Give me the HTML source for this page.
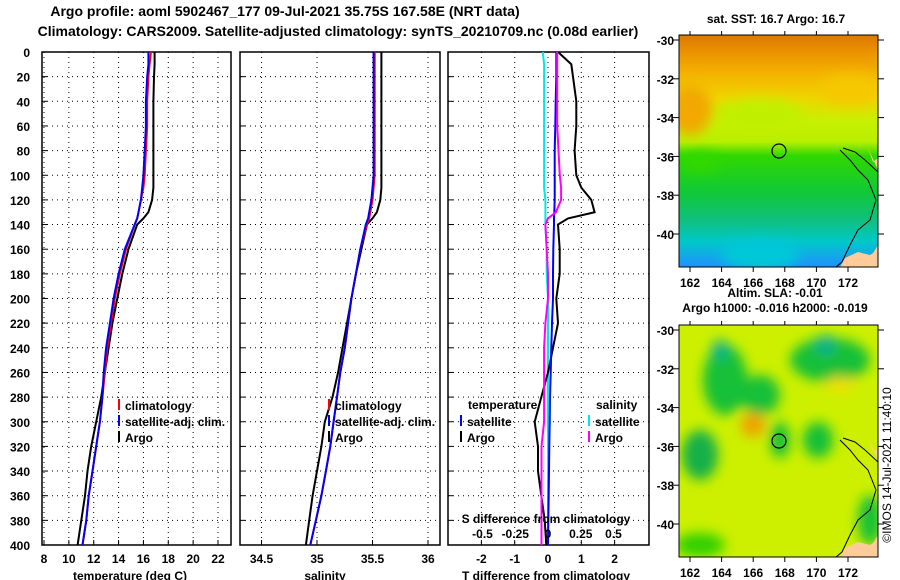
<!DOCTYPE html>
<html><head><meta charset="utf-8"><style>
body{margin:0;background:#fff;}
svg{display:block;font-family:"Liberation Sans",sans-serif;font-weight:bold;}
</style></head><body>
<svg id="chart" width="900" height="580" viewBox="0 0 900 580" xmlns="http://www.w3.org/2000/svg">
<defs>
<linearGradient id="sstg" x1="0" y1="0" x2="0" y2="1">
<stop offset="0" stop-color="#dc7800"/><stop offset="0.08" stop-color="#ec9400"/>
<stop offset="0.17" stop-color="#f4b400"/><stop offset="0.27" stop-color="#f0d400"/>
<stop offset="0.37" stop-color="#c8f000"/><stop offset="0.46" stop-color="#b8f000"/>
<stop offset="0.52" stop-color="#30d800"/><stop offset="0.68" stop-color="#10c838"/>
<stop offset="0.8" stop-color="#10c080"/><stop offset="0.89" stop-color="#00c8c8"/>
<stop offset="1" stop-color="#2090ff"/>
</linearGradient>
<filter id="blur"><feGaussianBlur stdDeviation="6"/></filter>
<clipPath id="c1"><rect x="679" y="35" width="199" height="232"/></clipPath>
<clipPath id="c2"><rect x="679" y="325" width="199" height="232"/></clipPath>
</defs>
<text x="285" y="16" font-size="14" text-anchor="middle">Argo profile: aoml 5902467_177 09-Jul-2021 35.75S 167.58E (NRT data)</text>
<text x="338" y="36" font-size="14" text-anchor="middle">Climatology: CARS2009. Satellite-adjusted climatology: synTS_20210709.nc (0.08d earlier)</text>
<g id="panels"></g>

<!-- top map -->
<g clip-path="url(#c1)">
<rect x="679" y="35" width="199" height="232" fill="url(#sstg)"/>
<g filter="url(#blur)">
<ellipse cx="690" cy="110" rx="22" ry="25" fill="#f2a800"/>
<ellipse cx="760" cy="115" rx="45" ry="16" fill="#c0f000"/>
<ellipse cx="700" cy="162" rx="20" ry="10" fill="#30d800"/>
<ellipse cx="850" cy="90" rx="30" ry="15" fill="#f5c800"/>
<ellipse cx="760" cy="255" rx="40" ry="15" fill="#00c8d8"/>
</g>
<path d="M868,148 L873,162 L878,158 L878,267 L855,267 L872,255 L878,245 L878,170 Z" fill="#ffcc99"/>
<path d="M845,258 L858,252 L870,255 L878,250 L878,267 L840,267 Z" fill="#ffcc99"/>
<path d="M840,150 L850,160 L858,170 L868,180 L876,200 L870,220 L858,230 L850,245 L842,262 L836,267" fill="none" stroke="#000" stroke-width="1"/>
<path d="M843,148 L855,152 L865,160 L878,172" fill="none" stroke="#000" stroke-width="1"/>
<circle cx="779" cy="151" r="7" fill="none" stroke="#000" stroke-width="1.2"/>
</g>
<rect x="679" y="35" width="199" height="232" fill="none" stroke="#000" stroke-width="1"/>
<text x="776" y="23" font-size="12" text-anchor="middle">sat. SST: 16.7 Argo: 16.7</text>

<!-- bottom map -->
<g clip-path="url(#c2)">
<rect x="679" y="325" width="199" height="232" fill="#ccf000"/>
<g filter="url(#blur)">
<ellipse cx="725" cy="380" rx="22" ry="35" fill="#18c038"/>
<ellipse cx="720" cy="350" rx="8" ry="10" fill="#10b090"/>
<ellipse cx="760" cy="395" rx="20" ry="20" fill="#18c038"/>
<ellipse cx="830" cy="360" rx="40" ry="22" fill="#18c038"/>
<ellipse cx="825" cy="345" rx="10" ry="10" fill="#10b090"/>
<ellipse cx="700" cy="455" rx="18" ry="25" fill="#18b048"/>
<ellipse cx="780" cy="440" rx="10" ry="18" fill="#18c038"/>
<ellipse cx="818" cy="440" rx="15" ry="18" fill="#18c038"/>
<ellipse cx="753" cy="425" rx="12" ry="12" fill="#f0a000"/>
<ellipse cx="840" cy="385" rx="15" ry="8" fill="#f0e000"/>
<ellipse cx="700" cy="545" rx="25" ry="12" fill="#30d000"/>
<ellipse cx="870" cy="520" rx="12" ry="25" fill="#18c038"/>
</g>
<path d="M868,438 L873,452 L878,448 L878,557 L855,557 L872,545 L878,535 L878,460 Z" fill="#ffcc99"/>
<path d="M845,548 L858,542 L870,545 L878,540 L878,557 L840,557 Z" fill="#ffcc99"/>
<path d="M840,440 L850,450 L858,460 L868,470 L876,490 L870,510 L858,520 L850,535 L842,552 L836,557" fill="none" stroke="#000" stroke-width="1"/>
<path d="M843,438 L855,442 L865,450 L878,462" fill="none" stroke="#000" stroke-width="1"/>
<circle cx="779" cy="441" r="7" fill="none" stroke="#000" stroke-width="1.2"/>
</g>
<rect x="679" y="325" width="199" height="232" fill="none" stroke="#000" stroke-width="1"/>
<text x="775" y="297" font-size="12" text-anchor="middle">Altim. SLA: -0.01</text>
<text x="775" y="312" font-size="12" text-anchor="middle">Argo h1000: -0.016 h2000: -0.019</text>
<text transform="translate(891,465) rotate(-90)" font-size="12" font-weight="normal" text-anchor="middle">©IMOS 14-Jul-2021 11:40:10</text>
<g id="maplabels"></g>
</svg>
<script>
const NS='http://www.w3.org/2000/svg';
const depths=[0,10,20,40,60,80,100,110,120,130,135,140,160,180,200,220,240,260,280,300,320,340,360,380,400];
const argoT=[16.9,16.9,16.85,16.8,16.8,16.8,16.8,16.8,16.7,16.4,16.0,15.5,14.8,14.3,13.9,13.5,13.2,12.9,12.6,12.2,11.8,11.5,11.3,11.0,10.7];
const climT=[16.6,16.5,16.4,16.3,16.3,16.2,16.1,16.0,15.8,15.6,15.5,15.3,14.6,14.1,13.7,13.4,13.1,12.9,12.7,12.5,12.2,11.9,11.6,11.4,11.1];
const satT=[16.4,16.4,16.3,16.2,16.2,16.1,16.0,15.9,15.8,15.6,15.5,15.3,14.5,14.0,13.6,13.3,13.0,12.8,12.7,12.5,12.2,11.9,11.6,11.4,11.1];
const argoS=[35.58,35.58,35.58,35.58,35.58,35.58,35.58,35.58,35.57,35.54,35.5,35.45,35.4,35.35,35.31,35.27,35.23,35.19,35.14,35.07,35.04,35.0,34.96,34.93,34.9];
const climS=[35.52,35.52,35.52,35.52,35.52,35.52,35.52,35.51,35.5,35.48,35.47,35.45,35.39,35.35,35.31,35.28,35.25,35.21,35.18,35.15,35.12,35.08,35.04,34.99,34.94];
const satS=[35.51,35.51,35.51,35.51,35.51,35.51,35.51,35.5,35.49,35.47,35.46,35.44,35.39,35.35,35.31,35.28,35.25,35.21,35.18,35.15,35.12,35.08,35.04,34.99,34.94];
const argoTd=[0.3,0.7,0.75,0.85,0.85,0.8,0.85,1.0,1.3,1.4,0.6,0.3,0.35,0.35,0.25,0.3,0.15,0.0,-0.2,-0.4,-0.3,-0.3,-0.2,-0.1,-0.05];
const satTd=[0.25,0.25,0.25,0.23,0.22,0.2,0.2,0.2,0.2,0.19,0.18,0.18,0.16,0.15,0.15,0.12,0.1,0.08,0.06,0.05,0.04,0.03,0.02,0.01,0.0];
const argoSd=[0.07,0.07,0.07,0.07,0.07,0.08,0.09,0.1,0.1,0.06,0.0,-0.02,-0.01,0.0,0.0,-0.02,-0.03,-0.03,-0.03,-0.03,-0.05,-0.05,-0.05,-0.05,-0.05];
const satSd=[-0.04,-0.03,-0.03,-0.03,-0.03,-0.03,-0.03,-0.03,-0.02,-0.02,-0.02,-0.02,-0.01,-0.01,0.0,0.0,0.0,0.0,0.0,0.0,0.0,0.0,0.0,0.0,0.0];
const tTicks=[8,10,12,14,16,18,20,22];
const sTicks=[34.5,35,35.5,36];
const tdTicks=[-2,-1,0,1,2];
const sdTicks=[-0.5,-0.25,0,0.25,0.5];
const sdTickLabels=['-0.5','-0.25','0','0.25','0.5'];
const yTicks=[0,20,40,60,80,100,120,140,160,180,200,220,240,260,280,300,320,340,360,380,400];
const latTicks=[-30,-32,-34,-36,-38,-40];
const lonTicks=[162,164,166,168,170,172];

const Y0=52,Y1=545;
const yOf=d=>Y0+(d/400)*(Y1-Y0);
const xT=v=>44+(v-8)*(174/14);
const xS=v=>317+(v-35)*111;
const xTd=v=>548+v*33.3;
const xSd=v=>548+v*131;
const G=document.getElementById('panels');
function el(tag,attrs,parent){const e=document.createElementNS(NS,tag);for(const k in attrs)e.setAttribute(k,attrs[k]);(parent||G).appendChild(e);return e;}
function txt(x,y,s,anchor,size,parent){const t=el('text',{x:x,y:y,'font-size':size||12,'text-anchor':anchor||'middle'},parent);t.textContent=s;return t;}

function panel(name,L,R,ticks,xf,labels){
  const g=el('g',{});
  
  
  yTicks.forEach(d=>{if(d>0&&d<400){el('line',{x1:L,x2:R,y1:yOf(d),y2:yOf(d),stroke:'#000','stroke-dasharray':'1,4','stroke-width':1},g);}
    el('line',{x1:L,x2:L+5,y1:yOf(d),y2:yOf(d),stroke:'#000'},g);});
  ticks.forEach(v=>{const x=xf(v);el('line',{x1:x,x2:x,y1:Y0,y2:Y1,stroke:'#000','stroke-dasharray':'1,4'},g);
    el('line',{x1:x,x2:x,y1:Y1,y2:Y1-5,stroke:'#000'},g);});
  el('rect',{x:L,y:Y0,width:R-L,height:Y1-Y0,fill:'none',stroke:'#000','stroke-width':1.5},g);
  if(labels) ticks.forEach((v,i)=>{const t=txt(xf(v),563,labels[i],'middle',12,g);});
  return g;
}
function line(g,vals,xf,color,name){
  const p=el('polyline',{points:vals.map((v,i)=>xf(v).toFixed(1)+','+yOf(depths[i]).toFixed(1)).join(' '),fill:'none',stroke:color,'stroke-width':2},g);
  
  
}
yTicks.forEach(d=>{const t=txt(30,yOf(d)+5,String(d),'end',12);

});

const p1=panel('temperature-panel',42,231,tTicks,xT,tTicks.map(String));
line(p1,argoT,xT,'#000','argo-temperature-line');
line(p1,climT,xT,'#f00','climatology-temperature-line');
line(p1,satT,xT,'#00f','satellite-temperature-line');
let t=txt(130,580,'temperature (deg C)','middle',12,p1);

const p2=panel('salinity-panel',240,440,sTicks,xS,['34.5','35','35.5','36']);
line(p2,argoS,xS,'#000','argo-salinity-line');
line(p2,climS,xS,'#f00','climatology-salinity-line');
line(p2,satS,xS,'#00f','satellite-salinity-line');
t=txt(325,580,'salinity','middle',12,p2);

const p3=panel('difference-panel',448,649,tdTicks,xTd,tdTicks.map(String));
line(p3,satSd,xSd,'#00e8e8','satellite-salinity-diff-line');
line(p3,argoTd,xTd,'#000','argo-temperature-diff-line');
line(p3,satTd,xTd,'#00f','satellite-temperature-diff-line');
line(p3,argoSd,xSd,'#f0f','argo-salinity-diff-line');
sdTicks.forEach((v,i)=>{const s=txt(xSd(v),538,sdTickLabels[i],'middle',12,p3);});
t=txt(546,523,'S difference from climatology','middle',12,p3);
t=txt(546,580,'T difference from climatology','middle',12,p3);

function legend(x,y,color,label,name){
  const g=el('g',{});
  
  
  el('line',{x1:x,x2:x,y1:y-11,y2:y,stroke:color,'stroke-width':2},g);
  txt(x+6,y,label,'start',12,g);
}
legend(119,410,'#f00','climatology','legend-climatology');
legend(119,426,'#00f','satellite-adj. clim.','legend-satellite-adj');
legend(119,442,'#000','Argo','legend-argo');
legend(329,410,'#f00','climatology','legend-climatology-s');
legend(329,426,'#00f','satellite-adj. clim.','legend-satellite-adj-s');
legend(329,442,'#000','Argo','legend-argo-s');
t=txt(468,409,'temperature','start',12,p3);
t=txt(596,409,'salinity','start',12,p3);
legend(461,426,'#00f','satellite','legend-temp-satellite');
legend(461,442,'#000','Argo','legend-temp-argo');
legend(589,426,'#00e8e8','satellite','legend-sal-satellite');
legend(589,442,'#f0f','Argo','legend-sal-argo');

const ML=document.getElementById('maplabels');
[[35,40],[325,330]].forEach(([top,y30])=>{
  latTicks.forEach(v=>{const y=y30+(-30-v)*19.4;
    el('line',{x1:672,x2:679,y1:y,y2:y,stroke:'#000'},ML);
    el('line',{x1:878,x2:884,y1:y,y2:y,stroke:'#000'},ML);
    const s=txt(674,y+5,String(v),'end',12,ML);});
  lonTicks.forEach(v=>{const x=690+(v-162)*15.8;
    el('line',{x1:x,x2:x,y1:top-4,y2:top,stroke:'#000'},ML);
    el('line',{x1:x,x2:x,y1:top+232,y2:top+237,stroke:'#000'},ML);
    const s=txt(x,top+252,String(v),'middle',12,ML);});
});
</script>
</body></html>
